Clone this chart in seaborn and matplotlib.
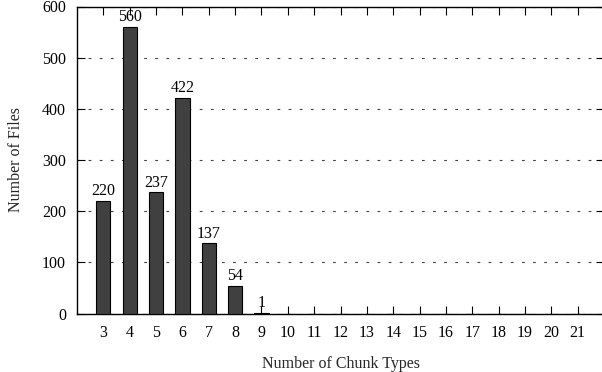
import matplotlib
matplotlib.use('Agg')
import matplotlib.pyplot as plt
import seaborn as sns
import pandas as pd

chunk_types = list(range(3, 22))
file_counts = [220, 560, 237, 422, 137, 54, 1, 0, 0, 0, 0, 0, 0, 0, 0, 0, 0, 0, 0]
y_ticks = [0, 100, 200, 300, 400, 500, 600]

df = pd.DataFrame({'chunks': chunk_types, 'files': file_counts})

sns.set_theme(style='white')
plt.rcParams['font.family'] = ['Liberation Serif', 'DejaVu Serif']
plt.rcParams['font.size'] = 11.5

fig = plt.figure(figsize=(6.02, 3.72), dpi=100)
ax = fig.add_axes([77 / 602, (372 - 313.5) / 372, 527 / 602, 307 / 372])

sns.barplot(data=df, x='chunks', y='files', native_scale=True, width=0.54,
            color='#404040', edgecolor='black', linewidth=0.8, saturation=1,
            ax=ax, zorder=3)

# value labels above the non-empty bars
for x, y in zip(chunk_types, file_counts):
    if y > 0:
        ax.text(x, y + 3, str(y), ha='center', va='bottom', fontsize=11.5,
                color='black', zorder=5)

ax.set_xlim(2, 22)
ax.set_ylim(0, 600)
ax.set_xticks(chunk_types)
ax.set_xticklabels([str(c) for c in chunk_types])
ax.set_yticks(y_ticks)
ax.yaxis.grid(True, linestyle=(0, (2.5, 7.5)), color='#444444', linewidth=0.8)
ax.set_axisbelow(True)

ax.tick_params(axis='both', direction='in', length=6, width=0.8, colors='black',
               labelsize=11.5, top=True, right=True, bottom=True, left=True, pad=8)
for s in ax.spines.values():
    s.set_color('black')
    s.set_linewidth(1.0)
ax.spines['right'].set_visible(False)

ax.set_xlabel('Number of Chunk Types', fontsize=11.5, labelpad=11)
ax.set_ylabel('Number of Files', fontsize=11.5, labelpad=13)

fig.savefig('out.png', dpi=100)
